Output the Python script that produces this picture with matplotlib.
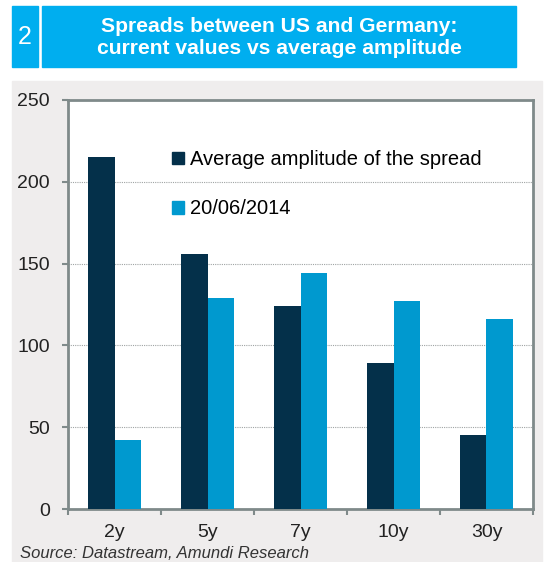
import matplotlib.pyplot as plt
from matplotlib.patches import Rectangle, Patch
import numpy as np

plt.rcParams['font.family'] = ['Liberation Sans', 'DejaVu Sans']

maturities = ["2y", "5y", "7y", "10y", "30y"]
avg_amplitude = [215, 156, 124, 89, 45]
spread_20140620 = [42, 129, 144, 127, 116]
series_labels = ["Average amplitude of the spread", "20/06/2014"]

dark = "#04304A"
light = "#0099CF"
title_blue = "#00AEEF"
panel_gray = "#EFEDED"
spine_gray = "#7F8A8A"

W, H = 549, 562
fig = plt.figure(figsize=(W / 100, H / 100), dpi=100)

# gray panel behind the chart and the two title boxes
fig.patches.append(Rectangle((12 / W, 0), 530 / W, 1 - 81 / H, transform=fig.transFigure,
                             color=panel_gray, zorder=-2))
fig.patches.append(Rectangle((12 / W, 1 - 67 / H), 26 / W, 61 / H, transform=fig.transFigure,
                             color=title_blue, zorder=-2))
fig.patches.append(Rectangle((42 / W, 1 - 67 / H), 474 / W, 61 / H, transform=fig.transFigure,
                             color=title_blue, zorder=-2))
fig.text(25 / W, 1 - 37 / H, "2", color="white", fontsize=18, ha="center", va="center")
fig.text(279 / W, 1 - 37.5 / H, "Spreads between US and Germany:\ncurrent values vs average amplitude",
         color="white", fontsize=15.2, fontweight="bold", ha="center", va="center", linespacing=1.2)

ax = fig.add_axes([68 / W, 53 / H, 465 / W, 409 / H])
ax.set_facecolor("white")

x = np.arange(len(maturities))
w = 0.29
ax.bar(x - w / 2, avg_amplitude, w, color=dark, zorder=3)
ax.bar(x + w / 2, spread_20140620, w, color=light, zorder=3)

ax.set_xlim(-0.5, len(maturities) - 0.5)
ax.set_ylim(0, 250)
ax.set_yticks([0, 50, 100, 150, 200, 250])
ax.set_xticks(x)
ax.set_xticklabels(maturities)
ax.set_xticks(np.arange(-0.5, len(maturities)), minor=True)
ax.tick_params(axis="x", which="major", length=0, pad=11, labelsize=14, colors="#222222")
ax.tick_params(axis="x", which="minor", length=4, width=1.5, color=spine_gray, direction="out")
ax.tick_params(axis="y", length=4, width=1.5, color=spine_gray, pad=9, labelsize=14,
               labelcolor="#222222")
for s in ax.spines.values():
    s.set_color(spine_gray)
    s.set_linewidth(2)

for v in [50, 100, 150, 200]:
    ax.axhline(v, color="#A0A4A4", linewidth=0.8, linestyle=(0, (1, 1)), zorder=1)

handles = [Patch(color=dark), Patch(color=light)]
fig.legend(handles, series_labels, loc="upper left", bbox_to_anchor=(172 / W, 1 - 150 / H),
           frameon=False, fontsize=14.5, handlelength=0.6, handleheight=0.6,
           handletextpad=0.3, labelspacing=1.5, borderpad=0, borderaxespad=0)

fig.text(20 / W, 1 - 546 / H, "Source: Datastream, Amundi Research", fontsize=12,
         style="italic", color="#333333", ha="left", va="top")

fig.savefig("out.png", dpi=100)
